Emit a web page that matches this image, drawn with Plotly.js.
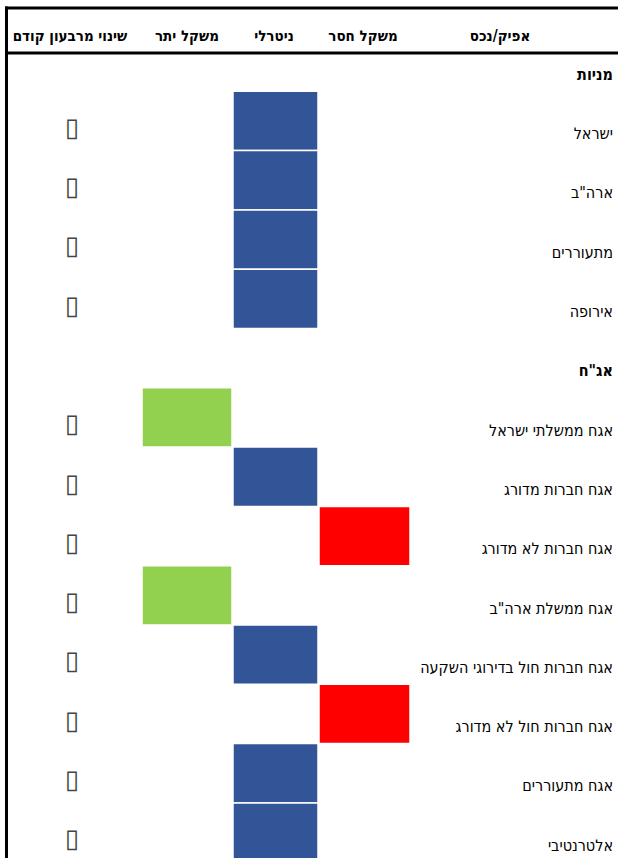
<!DOCTYPE html>
<html><head><meta charset="utf-8">
<script src="https://cdn.plot.ly/plotly-3.0.1.min.js"></script>
<style>html,body{margin:0;padding:0;background:#fff}#chart{width:618px;height:858px}</style>
</head><body><div id="chart"></div>
<script>
// ---- data ----
var rowLabels = ['מניות','ישראל','ארה"ב','מתעוררים','אירופה','אג"ח','אגח ממשלתי ישראל','אגח חברות מדורג','אגח חברות לא מדורג','אגח ממשלת ארה"ב','אגח חברות חול בדירוגי השקעה','אגח חברות חול לא מדורג','אגח מתעוררים','אלטרנטיבי'];
var isGroup = [true,false,false,false,false,true,false,false,false,false,false,false,false,false];
var positions = [null,'ניטרלי','ניטרלי','ניטרלי','ניטרלי',null,'משקל יתר','ניטרלי','משקל חסר','משקל יתר','ניטרלי','משקל חסר','ניטרלי','ניטרלי'];
var changeMarks = [null,'▯','▯','▯','▯',null,'▯','▯','▯','▯','▯','▯','▯','▯'];
var columnHeaders = ['שינוי מרבעון קודם','משקל יתר','ניטרלי','משקל חסר','אפיק/נכס'];

// ---- styling / layout constants ----
var colStyle = {
  'משקל יתר': {center:187, width:90, color:'#92D050'},
  'ניטרלי':   {center:275.5, width:85, color:'#325597'},
  'משקל חסר': {center:364.5, width:91, color:'#FF0000'}
};
var headerX = [70, 187, 274, 363, 500];
var FONT = '"Liberation Sans Narrow", "Arial Narrow", "DejaVu Sans Condensed", sans-serif';

var traces = [];
['משקל יתר','ניטרלי','משקל חסר'].forEach(function(p){
  var xs=[], ys=[], bs=[];
  positions.forEach(function(v,i){ if(v===p){ xs.push(colStyle[p].center); ys.push(1); bs.push(i); } });
  traces.push({type:'bar', x:xs, y:ys, base:bs, width:colStyle[p].width,
    marker:{color:colStyle[p].color, line:{color:'#fff', width:1.5}}, hoverinfo:'skip', showlegend:false});
});

// row labels
traces.push({type:'scatter', mode:'text', x:rowLabels.map(function(){return 613;}),
  y:rowLabels.map(function(_,i){return i+0.74;}),
  text:rowLabels.map(function(l,i){return isGroup[i]?'<b>'+l+'</b>':l;}),
  textposition:'middle left', textfont:{family:FONT, size:16, color:'#000'}, hoverinfo:'skip', showlegend:false, cliponaxis:false});

// change marks
var cx=[], cy=[], ct=[];
changeMarks.forEach(function(m,i){ if(m){cx.push(72); cy.push(i+0.64); ct.push(m);} });
traces.push({type:'scatter', mode:'text', x:cx, y:cy, text:ct, textposition:'middle center',
  textfont:{family:'DejaVu Sans', size:26, color:'#444'}, hoverinfo:'skip', showlegend:false, cliponaxis:false});

// column headers
traces.push({type:'scatter', mode:'text', x:headerX, y:columnHeaders.map(function(){return 0.084;}),
  text:columnHeaders.map(function(h){return '<b>'+h+'</b>';}), textposition:'middle center',
  textfont:{family:FONT, size:15, color:'#000'}, hoverinfo:'skip', showlegend:false, cliponaxis:false});

var layout = {
  width:618, height:858, margin:{l:0,r:0,t:0,b:0},
  paper_bgcolor:'#fff', plot_bgcolor:'#fff', barmode:'overlay', bargap:0,
  xaxis:{range:[0,618], visible:false, fixedrange:true},
  yaxis:{range:[(858-32)/59.3, -32/59.3], visible:false, fixedrange:true},
  shapes:[
    {type:'line', xref:'paper', yref:'paper', x0:5/618, x1:1, y0:1-8/858, y1:1-8/858, line:{color:'#000', width:3}},
    {type:'line', xref:'paper', yref:'paper', x0:5/618, x1:1, y0:1-53/858, y1:1-53/858, line:{color:'#000', width:3}},
    {type:'line', xref:'paper', yref:'paper', x0:6.5/618, x1:6.5/618, y0:0, y1:1-6.5/858, line:{color:'#000', width:3}}
  ],
  showlegend:false, hovermode:false
};
Plotly.newPlot('chart', traces, layout, {displayModeBar:false, staticPlot:true});
</script></body></html>
